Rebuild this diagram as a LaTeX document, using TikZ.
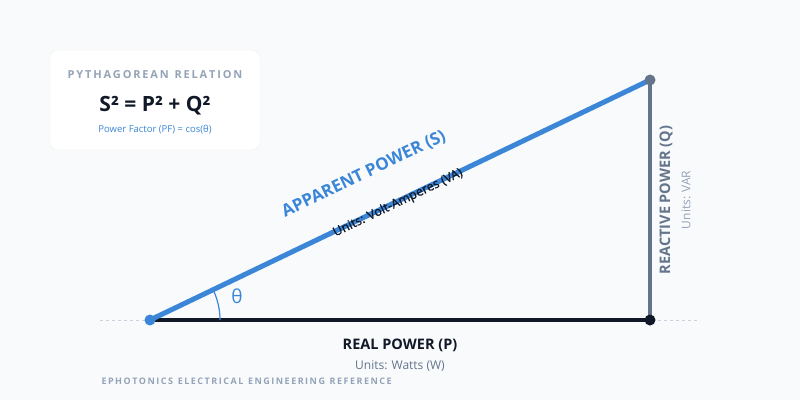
\documentclass[tikz,border=0pt]{standalone}
\usepackage{fontspec}
\setmainfont{Open Sans}
\usetikzlibrary{calc}
\definecolor{bg}{HTML}{F8FAFC}
\definecolor{blu}{HTML}{3B86D6}
\definecolor{dark}{HTML}{111827}
\definecolor{slate}{HTML}{64748B}
\definecolor{gry}{HTML}{94A3B8}
\begin{document}
\begin{tikzpicture}[x=1pt,y=-1pt,
  lbl/.style={font=\bfseries\fontsize{14.5}{16}\selectfont},
  sub/.style={font=\fontsize{12}{14}\selectfont}]
\fill[bg] (0,0) rectangle (800,400);
\useasboundingbox (0,0) rectangle (800,400);
% card
\node[draw=black!6,fill=white,rounded corners=8pt,minimum width=210pt,minimum height=100pt] (card) at (155,100) {};
\node[text=gry,font=\bfseries\fontsize{11}{13}\selectfont] (ct) at (155,75) {P\,Y\,T\,H\,A\,G\,O\,R\,E\,A\,N\ \ R\,E\,L\,A\,T\,I\,O\,N};
\node[text=dark,font=\bfseries\fontsize{21}{24}\selectfont] (eq) at (155,106) {S² = P² + Q²};
\node[text=blu,font=\fontsize{9.5}{11}\selectfont] (pf) at (155,130) {Power Factor (PF) = cos(θ)};
% points
\coordinate (A) at (150,320);
\coordinate (B) at (650,320);
\coordinate (C) at (650,80);
\coordinate (L) at (100,320);
\coordinate (R) at (700,320);
\draw[gry!50,dashed,thin] (L) -- (R);
\draw[dark,line width=4pt] (A) -- (B);
\draw[slate,line width=4pt] (B) -- (C);
\draw[blu,line width=1.2pt] ($(A)+(70,0)$) arc[start angle=0,end angle=-25.6,radius=70];
\draw[blu,line width=5pt] (A) -- (C);
\fill[blu] (A) circle (5.5);
\fill[dark] (B) circle (5.5);
\fill[slate] (C) circle (5.5);
\node[text=blu,font=\fontsize{19}{21}\selectfont] (th) at (237,296) {θ};
\node[text=blu,font=\bfseries\fontsize{17}{20}\selectfont,rotate=25.6] (ap) at (364,174) {APPARENT POWER (S)};
\node[text=dark,font=\fontsize{12.5}{14}\selectfont,rotate=25.6] (apu) at (398,203) {\addfontfeature{FakeBold=1}Units: Volt-Amperes (VA)};
\node[lbl,text=slate,rotate=90] (rp) at (666,200) {REACTIVE POWER (Q)};
\node[sub,text=gry,rotate=90] (rpu) at (686,200) {Units: VAR};
\node[lbl,text=dark] (re) at (400,345) {REAL POWER (P)};
\node[sub,text=slate] (reu) at (400,366) {Units: Watts (W)};
\node[text=gry,font=\bfseries\fontsize{9}{11}\selectfont,anchor=west] (ft) at (98,381) {E\,P\,H\,O\,T\,O\,N\,I\,C\,S\ \ E\,L\,E\,C\,T\,R\,I\,C\,A\,L\ \ E\,N\,G\,I\,N\,E\,E\,R\,I\,N\,G\ \ R\,E\,F\,E\,R\,E\,N\,C\,E};
\end{tikzpicture}
\end{document}
